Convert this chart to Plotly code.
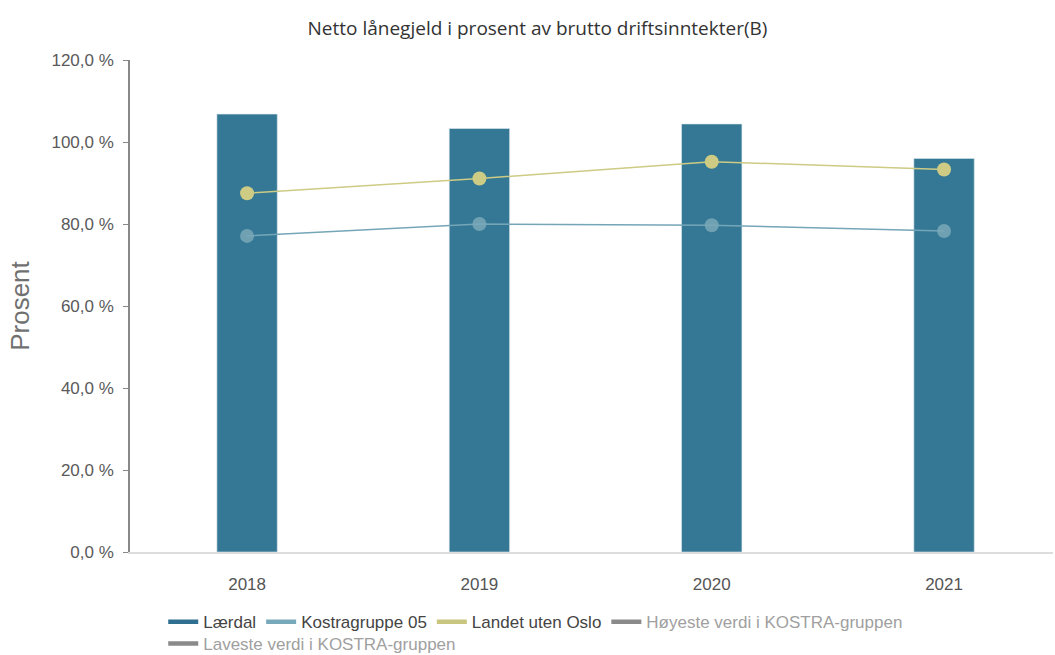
import plotly.graph_objects as go

years = ["2018", "2019", "2020", "2021"]
laerdal = [106.8, 103.3, 104.4, 96.0]
kostra05 = [77.1, 80.0, 79.7, 78.3]
landet = [87.5, 91.1, 95.2, 93.3]
y_ticks = [0, 20, 40, 60, 80, 100, 120]
y_ticklabels = ["0,0 %", "20,0 %", "40,0 %", "60,0 %", "80,0 %", "100,0 %", "120,0 %"]

BAR = "#347895"
KOS = "#7aa8b8"
KOS_LINE = "#75a6b8"
LAN = "#cdcb84"
GREY = "#8a8a8a"

fig = go.Figure()
fig.add_trace(go.Bar(x=years, y=laerdal, name="Lærdal", marker_color=BAR,
                     marker_line=dict(color="#dfe9ee", width=0.6), width=0.26,
                     showlegend=False))
fig.add_trace(go.Scatter(x=years, y=kostra05, mode="lines+markers", name="Kostragruppe 05",
                         line=dict(color=KOS_LINE, width=1.5),
                         marker=dict(size=14, color=KOS, opacity=0.85), showlegend=False))
fig.add_trace(go.Scatter(x=years, y=landet, mode="lines+markers", name="Landet uten Oslo",
                         line=dict(color=LAN, width=1.5),
                         marker=dict(size=14, color=LAN), showlegend=False))

# legend entries (line symbols, as in the reference)
legend_items = [
    ("Lærdal", "#2f6f8f", "legend", None),
    ("Kostragruppe 05", "#78a9bb", "legend", None),
    ("Landet uten Oslo", "#c9c67f", "legend", None),
    ("Høyeste verdi i KOSTRA-gruppen", GREY, "legend", "#a0a0a0"),
    ("Laveste verdi i KOSTRA-gruppen", GREY, "legend2", "#a0a0a0"),
]
for name, col, lg, txtcol in legend_items:
    label = name if txtcol is None else f"<span style='color:{txtcol}'>{name}</span>"
    fig.add_trace(go.Scatter(x=[None], y=[None], mode="lines", name=label,
                             line=dict(color=col, width=4.5), legend=lg,
                             hoverinfo="skip"))

legend_font = dict(family="Liberation Sans, Arial", size=17, color="#444444")
fig.update_layout(
    width=1055, height=655,
    margin=dict(l=130, r=2, t=60, b=103, autoexpand=False),
    paper_bgcolor="white", plot_bgcolor="white",
    title=dict(text="Netto lånegjeld i prosent av brutto driftsinntekter(B)",
               x=0.5095, xanchor="center", y=0.957, yanchor="middle",
               font=dict(family="Open Sans", size=19, color="#333333")),
    font=dict(family="Liberation Sans, Arial", size=17, color="#666666"),
    showlegend=True,
    legend=dict(orientation="h", x=0.036, xanchor="left", y=-0.1425, yanchor="middle",
                font=legend_font, itemwidth=30, traceorder="normal", bgcolor="rgba(0,0,0,0)"),
    legend2=dict(orientation="h", x=0.036, xanchor="left", y=-0.187, yanchor="middle",
                 font=legend_font, itemwidth=30, bgcolor="rgba(0,0,0,0)"),
    bargap=0.74,
)
fig.update_xaxes(type="category", range=[-0.504, 3.469], showgrid=False,
                 showline=True, linecolor="#dddddd", linewidth=1.5,
                 ticks="", tickfont=dict(size=17, color="#555555"), ticklabelstandoff=16,
                 zeroline=False)
fig.update_yaxes(range=[0, 120], tickvals=y_ticks, ticktext=y_ticklabels,
                 showgrid=False, zeroline=False, showline=True, linecolor="#888888", linewidth=1.5,
                 ticks="outside", ticklen=5, tickcolor="#888888",
                 tickfont=dict(size=17, color="#5a5a5a"), ticklabelstandoff=6,
                 title=dict(text="Prosent", font=dict(size=26, color="#707070"), standoff=14))

fig.write_html("out.html", config={"displayModeBar": False},
               post_script="document.body.style.margin='0';document.body.style.overflow='hidden';")
